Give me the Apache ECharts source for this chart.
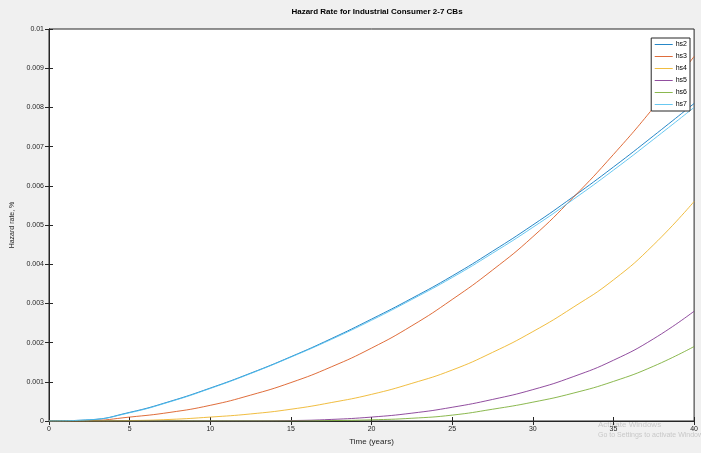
<!DOCTYPE html>
<html><head><meta charset="utf-8">
<script src="https://cdn.jsdelivr.net/npm/echarts@6/dist/echarts.min.js"></script>
<style>html,body{margin:0;padding:0;background:#f0f0f0;}#c{width:701px;height:453px;}</style>
</head><body><div id="c"></div>
<script>
const years = [0,2.5,5,7.5,10,12.5,15,17.5,20,22.5,25,27.5,30,32.5,35,37.5,40];
const seriesNames = ['hs2','hs3','hs4','hs5','hs6','hs7'];
const hs2 = [0,0.00003,0.00022,0.0005,0.00084,0.00122,0.00164,0.0021,0.0026,0.00313,0.0037,0.00433,0.0050,0.00572,0.00648,0.00728,0.0081];
const hs3 = [0,0.00001,0.0001,0.00022,0.0004,0.00066,0.00098,0.00138,0.00186,0.00243,0.0031,0.00385,0.0047,0.0057,0.0068,0.0080,0.0093];
const hs4 = [0,0,0.00001,0.00004,0.0001,0.00018,0.0003,0.00047,0.00068,0.00096,0.0013,0.00175,0.00228,0.0029,0.0036,0.0045,0.0056];
const hs5 = [0,0,0,0,0,0,0.00001,0.00004,0.0001,0.0002,0.00035,0.00055,0.0008,0.00113,0.00155,0.0021,0.0028];
const hs6 = [0,0,0,0,0,0,0,0.00001,0.00003,0.00007,0.00015,0.0003,0.00048,0.00071,0.00101,0.0014,0.0019];
const hs7 = [0,0.00003,0.00021,0.00049,0.00083,0.00121,0.00163,0.00208,0.00257,0.0031,0.00366,0.00428,0.00494,0.00565,0.0064,0.00719,0.008];
const xTicks = [0,5,10,15,20,25,30,35,40];
const yTicks = [0,0.001,0.002,0.003,0.004,0.005,0.006,0.007,0.008,0.009,0.01];
const colors = ['#0072BD','#D95319','#EDB120','#7E2F8E','#77AC30','#4DBEEE'];
const allData = [hs2,hs3,hs4,hs5,hs6,hs7];

const chart = echarts.init(document.getElementById('c'));
const FONT = 'Liberation Sans, Arial, sans-serif';
const axisCommon = {
  axisLine:{show:true,lineStyle:{color:'#262626',width:1}},
  axisTick:{show:true,inside:true,length:4,lineStyle:{color:'#262626'}},
  splitLine:{show:false}
};
chart.setOption({
  backgroundColor:'#f0f0f0',
  animation:false,
  title:{text:'Hazard Rate for Industrial Consumer 2-7 CBs',left:372,top:3,textAlign:'center',
    textStyle:{fontSize:8,fontWeight:'bold',color:'#000',fontFamily:FONT}},
  grid:{left:49,right:6,top:29,bottom:32,show:true,backgroundColor:'#fff',borderColor:'#262626',borderWidth:1},
  legend:{orient:'vertical',right:11,top:38,data:seriesNames,backgroundColor:'#fff',borderColor:'#262626',borderWidth:1,
    padding:[3,3,3,3],itemWidth:18,itemHeight:8,itemGap:5,
    itemStyle:{opacity:0},lineStyle:{width:1},
    textStyle:{fontSize:7,color:'#000',fontFamily:FONT,padding:[0,0,0,-2]}},
  xAxis:[
    Object.assign({type:'value',min:0,max:40,interval:5,position:'bottom',
      name:'Time (years)',nameLocation:'middle',nameGap:17,nameTextStyle:{fontSize:8,color:'#262626',fontFamily:FONT},
      axisLabel:{fontSize:7,color:'#262626',margin:5,fontFamily:FONT,formatter:v=>xTicks.includes(v)?String(v):''}},axisCommon),
    Object.assign({type:'value',min:0,max:40,interval:5,position:'top',axisLabel:{show:false}},axisCommon)
  ],
  yAxis:[
    Object.assign({type:'value',min:0,max:0.01,interval:0.001,position:'left',
      name:'Hazard rate, %',nameLocation:'middle',nameGap:27,nameTextStyle:{fontSize:7,color:'#262626',fontFamily:FONT},
      axisLabel:{fontSize:7,color:'#262626',margin:5,fontFamily:FONT,
        formatter:v=>{const t=yTicks.find(k=>Math.abs(k-v)<1e-9);return t===undefined?'':String(+t.toFixed(3));}}},axisCommon),
    Object.assign({type:'value',min:0,max:0.01,interval:0.001,position:'right',axisLabel:{show:false}},axisCommon)
  ],
  series: seriesNames.map((n,i)=>({
    name:n,type:'line',smooth:true,symbol:'none',clip:true,
    color:colors[i],
    lineStyle:{width:1,color:colors[i],opacity:0.85},
    data: years.map((x,j)=>[x,allData[i][j]])
  })),
  graphic:[
    {type:'text',left:598,top:421,style:{text:'Activate Windows',fontSize:8,fill:'rgba(150,150,150,0.45)',fontFamily:FONT}},
    {type:'text',left:598,top:432,style:{text:'Go to Settings to activate Windows.',fontSize:7,fill:'rgba(150,150,150,0.45)',fontFamily:FONT}}
  ]
});
</script></body></html>
